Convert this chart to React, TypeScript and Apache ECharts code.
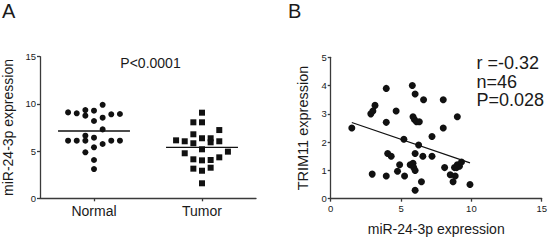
import React, { useEffect, useRef } from "react";
import * as echarts from "echarts";

// ---- Panel A data ----
const categories = ["Normal", "Tumor"];
const normalValues = [9.9, 9.1, 9.0, 9.35, 8.75, 9.28, 8.54, 8.9, 8.93, 8.19, 7.3, 6.63, 6.42, 6.1, 6.1, 6.1, 5.75, 6.1, 6.1, 5.4, 4.87, 4.06, 3.1];
const normalColumns = [1, -3, -2, -1, -1, 0, 1, 2, 3, 0, 1, -1, 0, -3, -2, -1, 1, 2, 3, 0, -1, 0, 0];
const tumorValues = [9.07, 8.05, 8.05, 7.23, 6.78, 6.14, 6.04, 5.83, 6.36, 6.36, 5.93, 6.04, 5.19, 4.77, 4.94, 4.13, 4.02, 4.06, 4.34, 3.14, 2.92, 3.24, 1.59];
const tumorColumns = [0, -1, 0, 2, -1, -3, -2, -1, 0, 1, 1, 2, 0, -2, 3, -1, 0, 1, 2, -1, 0, 1, 0];
const panelATicks = { min: 0, max: 15, interval: 5 };
const pValueA = "P<0.0001";

// ---- Panel B data ----
const mirX = [1.5, 2.95, 2.85, 3.0, 3.15, 3.95, 3.95, 3.95, 4.05, 4.3, 4.65, 4.75, 4.9, 5.2, 5.25, 5.8, 6.0, 5.85, 5.95, 6.1, 6.3, 6.0, 6.25, 6.55, 5.65, 5.85, 5.9, 6.0, 6.0, 6.45, 6.6, 8.0, 9.0, 8.0, 7.2, 7.2, 8.1, 8.5, 8.7, 8.85, 8.8, 9.0, 9.15, 9.3, 9.9, 8.95];
const trimY = [2.5, 0.87, 3.0, 3.1, 3.3, 3.9, 2.7, 0.8, 1.6, 1.5, 3.1, 0.97, 1.2, 2.1, 0.8, 4.0, 3.7, 2.9, 2.8, 2.72, 2.72, 1.6, 1.9, 1.5, 1.2, 1.25, 1.1, 1.0, 0.3, 0.6, 3.5, 3.5, 2.9, 2.5, 2.2, 1.5, 1.1, 0.85, 0.6, 0.8, 1.1, 1.2, 1.15, 1.3, 0.5, 1.1];
const fitSlope = -0.17;
const fitIntercept = 2.95;
const statsB = ["r =-0.32", "n=46", "P=0.028"];

const FONT = "'Liberation Sans', Arial, Helvetica, sans-serif";
const TEXT = "#1a1a1a";
const AXIS = "#3a3a3a";
const DOT = "#111";
const COL_STEP = 0.08;
const MEAN_HALF = 0.333;

function mean(a: number[]) {
  return a.reduce((s, v) => s + v, 0) / a.length;
}

export default function App() {
  const ref = useRef<HTMLDivElement>(null);
  useEffect(() => {
    if (!ref.current) return;
    const chart = echarts.init(ref.current, undefined, { renderer: "svg" });

    const normalPts = normalValues.map((v, i) => [0 + normalColumns[i] * COL_STEP, v]);
    const tumorPts = tumorValues.map((v, i) => [1 + tumorColumns[i] * COL_STEP, v]);
    const mN = mean(normalValues);
    const mT = mean(tumorValues);
    const xMin = Math.min(...mirX);
    const xMax = Math.max(...mirX);
    const fitPts = [
      [xMin, fitIntercept + fitSlope * xMin],
      [xMax, fitIntercept + fitSlope * xMax],
    ];

    const axisLine = { show: true, onZero: false, lineStyle: { color: AXIS, width: 1.3 } };
    const axisTick = { show: true, length: 3, lineStyle: { color: AXIS, width: 1.3 } };
    const tickLabel = { color: TEXT, fontSize: 9.5, fontFamily: FONT };
    const dotStyle = { color: DOT, opacity: 1 };

    chart.setOption({
      animation: false,
      textStyle: { fontFamily: FONT },
      grid: [
        { left: 40, width: 216, top: 56.7, height: 141.6 },
        { left: 330.7, width: 213.6, top: 57.3, height: 141.4 },
      ],
      xAxis: [
        {
          gridIndex: 0,
          type: "category",
          data: categories,
          boundaryGap: true,
          axisLine,
          axisTick: { ...axisTick, alignWithLabel: true },
          axisLabel: { color: TEXT, fontSize: 14, fontFamily: FONT, margin: 6 },
          splitLine: { show: false },
        },
        {
          gridIndex: 0,
          type: "value",
          min: -0.5,
          max: 1.5,
          show: false,
          axisLine: { show: false, onZero: false },
          splitLine: { show: false },
        },
        {
          gridIndex: 1,
          type: "value",
          min: 0,
          max: 15,
          interval: 5,
          axisLine,
          axisTick,
          axisLabel: { ...tickLabel, margin: 5 },
          splitLine: { show: false },
          name: "miR-24-3p expression",
          nameLocation: "middle",
          nameGap: 23,
          nameTextStyle: { color: TEXT, fontSize: 14, fontFamily: FONT, verticalAlign: "top" },
        },
      ],
      yAxis: [
        {
          gridIndex: 0,
          type: "value",
          min: panelATicks.min,
          max: panelATicks.max,
          interval: panelATicks.interval,
          axisLine,
          axisTick,
          axisLabel: { ...tickLabel, margin: 4 },
          splitLine: { show: false },
          name: "miR-24-3p expression",
          nameLocation: "middle",
          nameGap: 25,
          nameTextStyle: { color: TEXT, fontSize: 14, fontFamily: FONT },
        },
        {
          gridIndex: 1,
          type: "value",
          min: 0,
          max: 5,
          interval: 1,
          axisLine,
          axisTick,
          axisLabel: { ...tickLabel, margin: 4 },
          splitLine: { show: false },
          name: "TRIM11 expression",
          nameLocation: "middle",
          nameGap: 20,
          nameTextStyle: { color: TEXT, fontSize: 14.5, fontFamily: FONT },
        },
      ],
      series: [
        {
          type: "scatter",
          xAxisIndex: 1,
          yAxisIndex: 0,
          symbol: "circle",
          symbolSize: 6,
          itemStyle: dotStyle,
          data: normalPts,
        },
        {
          type: "scatter",
          xAxisIndex: 1,
          yAxisIndex: 0,
          symbol: "rect",
          symbolSize: 6,
          itemStyle: dotStyle,
          data: tumorPts,
        },
        {
          type: "line",
          xAxisIndex: 1,
          yAxisIndex: 0,
          symbol: "none",
          lineStyle: { color: DOT, width: 1.3 },
          data: [
            [0 - MEAN_HALF, mN],
            [0 + MEAN_HALF, mN],
          ],
        },
        {
          type: "line",
          xAxisIndex: 1,
          yAxisIndex: 0,
          symbol: "none",
          lineStyle: { color: DOT, width: 1.3 },
          data: [
            [1 - MEAN_HALF, mT],
            [1 + MEAN_HALF, mT],
          ],
        },
        {
          type: "scatter",
          xAxisIndex: 2,
          yAxisIndex: 1,
          symbol: "circle",
          symbolSize: 7,
          itemStyle: dotStyle,
          data: mirX.map((x, i) => [x, trimY[i]]),
        },
        {
          type: "line",
          xAxisIndex: 2,
          yAxisIndex: 1,
          symbol: "none",
          lineStyle: { color: DOT, width: 1.2 },
          data: fitPts,
        },
      ],
      graphic: [
        { type: "text", left: 2, top: 1, style: { text: "A", fontSize: 20, fontFamily: FONT, fill: TEXT } },
        { type: "text", left: 288, top: 1, style: { text: "B", fontSize: 20, fontFamily: FONT, fill: TEXT } },
        {
          type: "text",
          x: 150.5,
          y: 63,
          style: { text: pValueA, fontSize: 14, fontFamily: FONT, fill: TEXT, align: "center", verticalAlign: "middle" },
        },
        {
          type: "text",
          x: 476.5,
          y: 54,
          style: { text: statsB.join("\n"), fontSize: 18, lineHeight: 18.5, fontFamily: FONT, fill: TEXT, align: "left", verticalAlign: "top" },
        },
      ],
    });
    return () => chart.dispose();
  }, []);
  return (
    <div
      ref={ref}
      style={{ position: "fixed", left: 0, top: 0, width: 550, height: 241, background: "#fff" }}
    />
  );
}
